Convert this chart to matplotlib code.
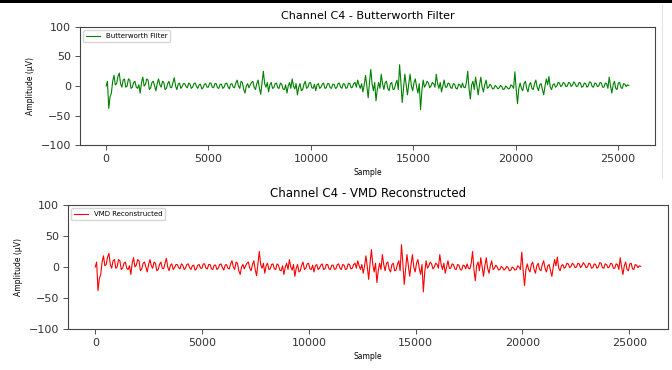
import numpy as np
import matplotlib
matplotlib.use("Agg")
import matplotlib.pyplot as plt
from matplotlib.lines import Line2D
from matplotlib.patches import Rectangle

# signal values, one every 64 samples (uV)
step = 64
butterworth = [
    0, 8, -38, -18, -12, 8, 18, 2, 4, 16, 22, 4, -2, 10, 12, -2, 0, 12, 10, -4,
    -2, 6, 8, -2, -4, 2, -12, 6, 15, 0, 3, 12, 10, -6, -3, 6, 8, 0, -8, 4,
    12, 2, -2, 8, 6, -6, -4, 4, 8, -2, -3, 6, 14, 0, -6, 3, 5, -4, -1, 4,
    4, -1, -3, 5, 3, -4, -2, 4, 5, -1, -4, 2, 3, -5, -3, 3, 4, -2, -2, 5,
    5, -2, -3, 4, 4, -3, -4, 3, 3, -4, -2, 4, 5, -1, -5, 3, 4, -2, -3, 5,
    10, 0, -4, 8, 6, -6, -12, 0, 4, -3, 2, 6, 8, -2, -6, 4, 10, -4, -14, 6,
    25, 4, -2, 6, -10, 2, 6, -4, -3, 4, 5, -3, -4, 5, 3, -5, -6, 2, -12, 0,
    6, -4, 12, 0, -5, 4, -15, -2, 4, -8, -6, 3, 8, -4, -2, 5, 6, -3, -4, 3,
    -8, 2, 4, -4, -2, 3, 5, -4, -3, 4, 4, -3, -4, 3, 3, -4, -3, 4, 5, -2,
    -4, 4, 3, -4, -3, 5, 4, -3, -2, 4, 6, -2, 10, 2, -4, 4, -10, 2, 18, 0,
    -20, 6, 28, 4, -8, 6, -25, -6, 6, -4, 20, 4, -6, 6, 8, -4, -8, 4, 6, -6,
    -5, 4, 10, -6, 36, 6, -28, -4, 20, 2, -15, 4, 20, 0, -8, 6, 12, -2, -12, 4,
    -40, -8, 10, -2, 2, 8, 5, -3, 0, 6, 4, -2, 20, 4, -4, 6, -10, 0, 10, -2,
    -2, 5, 4, -3, -4, 4, 3, -4, -5, 3, 2, -3, 5, -2, -3, 6, 25, -4, -22, 2,
    8, -6, 15, 0, -15, 2, 15, -2, -10, 2, 10, -4, -2, 3, 0, -5, -4, 1, -1, -5,
    -3, 1, -1, -6, -5, 0, -2, -5, -4, 2, 0, -4, 24, -6, -30, -4, 5, -4, -8, 4,
    8, -4, -10, 2, 6, -4, -6, 4, 10, -2, -8, 2, 4, -6, -15, 0, 12, 2, 16, -2,
    -6, 2, 4, -2, 0, 6, 5, -1, 1, 6, 4, -1, 0, 6, 5, -1, 2, 7, 4, -1,
    0, 6, 5, -2, -1, 5, 4, -2, 0, 7, 6, -1, -2, 5, 4, -1, 0, 6, 5, -2,
    -2, 5, 4, -4, 15, 0, -12, 2, 8, -4, -6, 5, 6, -3, -4, 4, 3, -1, 2, 1,
]
vmd = list(butterworth)

samples = np.arange(len(butterworth)) * step

fig = plt.figure(figsize=(6.72, 3.70), dpi=100)
fig.patch.set_facecolor("white")

# black strip on top of the screenshot and the faint separator line
fig.add_artist(Rectangle((0, 1 - 3 / 370), 1, 3 / 370, transform=fig.transFigure,
                         facecolor="black", edgecolor="none"))
fig.add_artist(Line2D([662 / 672, 662 / 672], [1 - 178 / 370, 1 - 5 / 370],
                      transform=fig.transFigure, color="#e4e4e4", lw=0.8))

ax1 = fig.add_axes([80 / 672, 1 - 145 / 370, 575 / 672, 118 / 370])
ax2 = fig.add_axes([68 / 672, 1 - 329 / 370, 600 / 672, 124 / 370])

panels = [
    (ax1, butterworth, "green", "Butterworth Filter", "Channel C4 - Butterworth Filter", 8, 5.0),
    (ax2, vmd, "red", "VMD Reconstructed", "Channel C4 - VMD Reconstructed", 8.5, 5.0),
]

for ax, vals, color, label, title, tsize, lsize in panels:
    ax.plot(samples, vals, color=color, lw=0.8, label=label)
    ax.set_ylim(-100, 100)
    ax.set_yticks([-100, -50, 0, 50, 100])
    ax.set_xticks([0, 5000, 10000, 15000, 20000, 25000])
    ax.set_title(title, fontsize=tsize, pad=6)
    ax.set_xlabel("Sample", fontsize=5.5, labelpad=3)
    ax.set_ylabel("Amplitude (\u00b5V)", fontsize=5.5, labelpad=4)
    ax.tick_params(labelsize=8, length=3.5, width=0.6, pad=3, colors="#333333")
    for s in ax.spines.values():
        s.set_linewidth(0.8)
        s.set_color("#444444")
    ax.legend(loc="upper left", fontsize=lsize, handlelength=2, borderpad=0.4,
              framealpha=0.8, edgecolor="#cccccc", fancybox=True)

fig.savefig("out.png", dpi=100)
